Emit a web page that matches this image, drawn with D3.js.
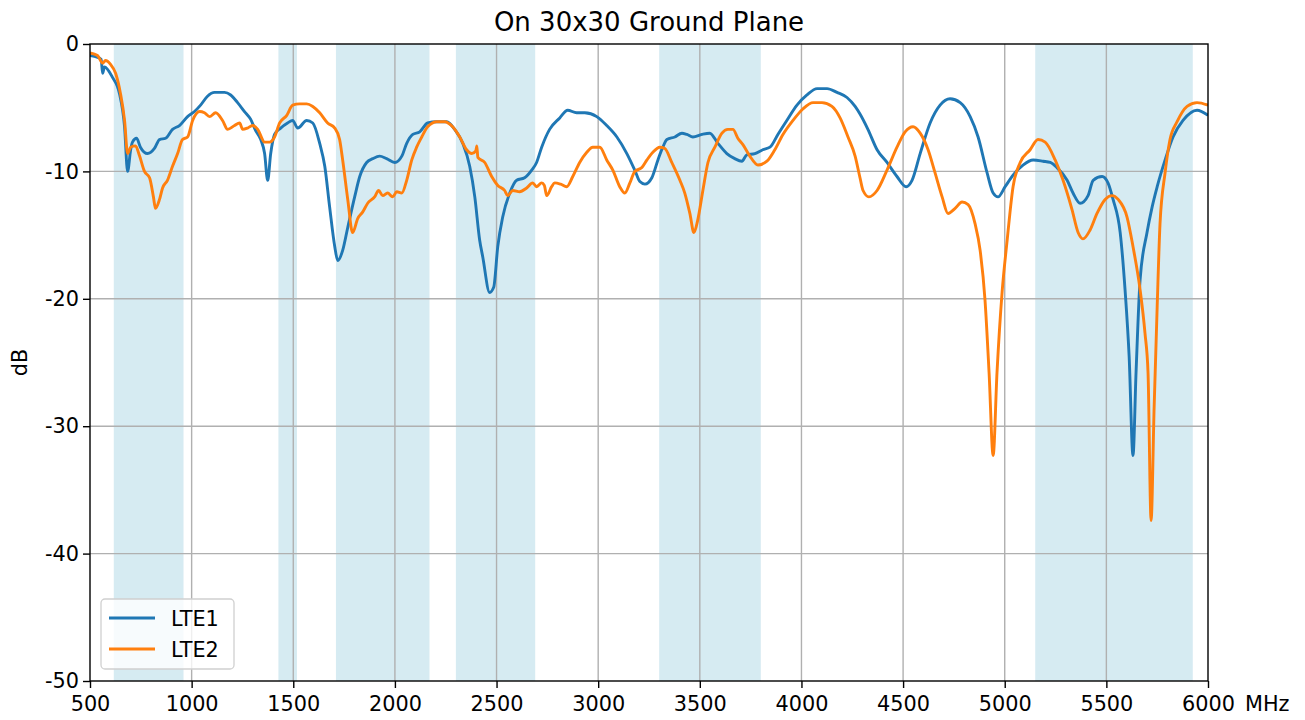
<!DOCTYPE html>
<html>
<head>
<meta charset="utf-8">
<script src="https://cdn.jsdelivr.net/npm/d3@7"></script>
<style>
  body { margin: 0; background: #fff; }
  text { font-family: "DejaVu Sans", sans-serif; fill: #000; }
</style>
</head>
<body>
<div class="canvas"></div>
<script>
// data
const bands = [[617, 960], [1427, 1518], [1710, 2170], [2300, 2690], [3300, 3800], [5150, 5925]];
const xTicks = [500, 1000, 1500, 2000, 2500, 3000, 3500, 4000, 4500, 5000, 5500, 6000];
const yTicks = [0, -10, -20, -30, -40, -50];
const seriesNames = ['LTE1', 'LTE2'];

const lte1Freq = [500,527,555,562,571,610,645,670,685,700,709,729,748,783,817,842,872,906,940,980,1014,1044,1078,1113,1162,1192,1226,1260,1290,1315,1340,1359,1374,1389,1408,1438,1472,1497,1522,1566,1596,1630,1655,1679,1704,1719,1743,1768,1802,1827,1861,1891,1925,1959,1999,2034,2058,2088,2122,2161,2206,2255,2294,2334,2368,2393,2417,2432,2466,2486,2506,2530,2565,2599,2638,2673,2697,2722,2761,2811,2850,2894,2934,2993,3042,3092,3141,3180,3205,3230,3264,3294,3318,3338,3377,3412,3436,3466,3510,3549,3589,3633,3672,3707,3731,3771,3810,3845,3884,3928,3978,4027,4077,4126,4175,4224,4264,4288,4327,4372,4421,4470,4515,4544,4584,4633,4682,4731,4781,4830,4869,4913,4943,4967,5002,5041,5090,5140,5189,5224,5257,5307,5336,5371,5410,5435,5479,5508,5533,5568,5592,5612,5631,5646,5666,5700,5725,5750,5789,5828,5877,5946,6000];
const lte1Db = [-0.9,-1.0,-1.2,-2.3,-1.8,-2.6,-3.9,-6.5,-10.0,-8.3,-7.7,-7.4,-8.1,-8.6,-8.2,-7.5,-7.4,-6.7,-6.4,-5.7,-5.3,-4.8,-4.1,-3.8,-3.8,-4.0,-4.6,-5.3,-5.9,-6.8,-7.5,-8.6,-10.7,-8.6,-7.1,-6.6,-6.2,-6.0,-6.6,-6.0,-6.2,-7.8,-9.6,-12.8,-15.9,-17.0,-16.2,-14.4,-12.0,-10.4,-9.3,-9.0,-8.8,-9.0,-9.3,-8.8,-7.8,-7.1,-6.9,-6.2,-6.1,-6.1,-6.7,-7.8,-9.6,-12.0,-15.4,-16.7,-19.5,-19.1,-15.9,-13.6,-11.7,-10.7,-10.5,-9.9,-9.3,-8.1,-6.7,-5.8,-5.2,-5.4,-5.4,-5.7,-6.4,-7.3,-8.6,-9.9,-10.8,-11.0,-10.5,-9.1,-8.1,-7.5,-7.3,-7.0,-7.1,-7.3,-7.1,-7.0,-7.8,-8.6,-9.0,-9.2,-8.7,-8.6,-8.3,-8.1,-7.1,-6.0,-4.8,-4.0,-3.5,-3.5,-3.8,-4.2,-4.9,-5.5,-6.7,-8.3,-9.3,-10.4,-11.2,-10.7,-8.6,-6.2,-4.8,-4.3,-4.6,-5.7,-7.3,-10.1,-11.7,-12.0,-11.2,-10.3,-9.5,-9.1,-9.2,-9.3,-9.7,-10.7,-11.7,-12.5,-11.9,-10.7,-10.4,-10.9,-12.2,-14.8,-19.3,-24.5,-32.3,-25.8,-18.5,-14.8,-12.8,-11.2,-9.1,-7.3,-6.0,-5.2,-5.6];

const lte2Freq = [500,537,562,576,601,626,650,670,685,700,724,744,768,793,812,822,842,857,881,906,931,955,980,1005,1039,1063,1088,1118,1152,1177,1211,1236,1251,1275,1300,1325,1359,1384,1408,1433,1468,1497,1531,1566,1596,1630,1669,1704,1728,1743,1768,1792,1817,1841,1866,1900,1920,1940,1964,1989,2009,2034,2058,2083,2107,2132,2161,2206,2245,2284,2319,2353,2378,2398,2403,2408,2442,2476,2506,2540,2555,2580,2614,2648,2678,2697,2722,2735,2747,2771,2786,2815,2845,2875,2909,2944,2973,3008,3042,3072,3106,3131,3156,3180,3215,3240,3269,3303,3328,3362,3402,3426,3451,3471,3490,3515,3540,3574,3609,3638,3663,3687,3712,3746,3786,3830,3869,3909,3958,4007,4057,4101,4150,4190,4229,4264,4288,4303,4332,4372,4421,4470,4510,4549,4584,4623,4657,4692,4721,4756,4790,4820,4854,4879,4903,4923,4943,4962,4987,5012,5041,5076,5125,5164,5199,5248,5287,5331,5361,5385,5420,5454,5494,5528,5558,5602,5631,5666,5690,5705,5720,5735,5750,5764,5789,5813,5848,5897,5946,6000];
const lte2Db = [-0.7,-0.9,-1.5,-1.3,-1.6,-2.3,-3.9,-6.0,-8.6,-8.1,-8.0,-8.8,-10.0,-10.5,-12.0,-12.9,-12.2,-11.3,-10.7,-9.6,-8.6,-7.5,-7.3,-6.0,-5.3,-5.4,-5.7,-5.4,-6.0,-6.7,-6.4,-6.2,-6.7,-6.6,-6.4,-6.7,-7.7,-7.7,-7.3,-6.2,-5.6,-4.8,-4.7,-4.7,-4.9,-5.4,-6.2,-6.6,-7.5,-9.1,-12.2,-14.8,-13.7,-13.2,-12.5,-12.0,-11.5,-11.9,-11.7,-12.0,-11.6,-11.7,-10.7,-9.1,-8.1,-7.3,-6.5,-6.1,-6.1,-6.5,-7.3,-8.3,-8.6,-8.4,-8.0,-8.9,-9.3,-10.4,-11.1,-11.5,-11.9,-11.5,-11.6,-11.3,-10.9,-11.2,-10.9,-11.1,-11.9,-11.2,-10.9,-11.0,-11.2,-10.4,-9.3,-8.5,-8.1,-8.1,-9.1,-9.9,-11.2,-11.7,-10.9,-10.0,-9.7,-9.1,-8.5,-8.1,-8.2,-9.3,-10.7,-11.7,-13.3,-14.8,-13.8,-11.5,-9.3,-8.1,-7.0,-6.7,-6.7,-7.4,-7.9,-8.8,-9.5,-9.2,-8.3,-7.1,-6.0,-5.1,-4.6,-4.6,-4.9,-5.8,-7.3,-8.8,-10.5,-11.5,-12.0,-11.5,-9.9,-8.1,-6.9,-6.5,-7.0,-8.3,-10.1,-12.0,-13.3,-12.9,-12.4,-12.6,-14.1,-16.2,-20.1,-25.8,-32.3,-25.8,-19.5,-15.4,-11.2,-9.3,-8.3,-7.5,-7.7,-9.1,-10.7,-13.0,-14.8,-15.3,-14.6,-13.3,-12.2,-11.9,-12.2,-13.6,-15.9,-19.3,-22.7,-25.8,-37.4,-28.5,-20.6,-14.1,-10.1,-7.5,-6.1,-4.9,-4.6,-4.8];

const colors = ['#1f77b4', '#ff7f0e'];
const series = [
  lte1Freq.map((f, i) => ({f: f, db: lte1Db[i]})),
  lte2Freq.map((f, i) => ({f: f, db: lte2Db[i]}))
];

const svg = d3.select('.canvas')
  .append('svg')
    .attr('width', 1305)
    .attr('height', 720);

const margin = {top: 44, right: 97, bottom: 39, left: 90};
const graphWidth = 1305 - margin.left - margin.right;
const graphHeight = 720 - margin.top - margin.bottom;
const fontSize = '20.8px';

const graph = svg.append('g')
  .attr('transform', `translate(${margin.left}, ${margin.top})`);

const x = d3.scaleLinear().domain([500, 6000]).range([0, graphWidth]);
const y = d3.scaleLinear().domain([-50, 0]).range([graphHeight, 0]);

graph.append('defs').append('clipPath').attr('id', 'clip')
  .append('rect').attr('width', graphWidth).attr('height', graphHeight);

// shaded bands
graph.selectAll('rect.band')
  .data(bands)
  .enter().append('rect')
    .attr('class', 'band')
    .attr('x', d => x(d[0]))
    .attr('width', d => x(d[1]) - x(d[0]))
    .attr('y', 0)
    .attr('height', graphHeight)
    .attr('fill', '#add8e6')
    .attr('fill-opacity', 0.5);

// grid
graph.selectAll('line.vgrid')
  .data(xTicks.slice(1, -1))
  .enter().append('line')
    .attr('x1', d => x(d)).attr('x2', d => x(d))
    .attr('y1', 0).attr('y2', graphHeight)
    .attr('stroke', '#b0b0b0').attr('stroke-width', 1.4);
graph.selectAll('line.hgrid')
  .data(yTicks.slice(1, -1))
  .enter().append('line')
    .attr('y1', d => y(d)).attr('y2', d => y(d))
    .attr('x1', 0).attr('x2', graphWidth)
    .attr('stroke', '#b0b0b0').attr('stroke-width', 1.4);

// lines
const line = d3.line()
  .x(d => x(d.f))
  .y(d => y(d.db))
  .curve(d3.curveMonotoneX);

graph.append('g').attr('clip-path', 'url(#clip)')
  .selectAll('path')
  .data(series)
  .enter().append('path')
    .attr('d', line)
    .attr('fill', 'none')
    .attr('stroke', (d, i) => colors[i])
    .attr('stroke-width', 2.9)
    .attr('stroke-linejoin', 'round');

// axes
const xAxis = d3.axisBottom(x).tickValues(xTicks).tickSize(7).tickPadding(8).tickFormat(d3.format('d'));
const yAxis = d3.axisLeft(y).tickValues(yTicks).tickSize(7).tickPadding(4).tickFormat(d => String(d));

const xAxisGroup = graph.append('g')
  .attr('transform', `translate(0, ${graphHeight})`)
  .call(xAxis);
const yAxisGroup = graph.append('g').call(yAxis);
[xAxisGroup, yAxisGroup].forEach(g => {
  g.select('.domain').remove();
  g.selectAll('line').attr('stroke', '#000').attr('stroke-width', 1.4);
  g.selectAll('text').style('font-size', fontSize).attr('fill', '#000');
});

// frame
graph.append('rect')
  .attr('width', graphWidth).attr('height', graphHeight)
  .attr('fill', 'none').attr('stroke', '#000').attr('stroke-width', 1.4);

// labels
svg.append('text')
  .attr('x', margin.left + graphWidth / 2).attr('y', 31)
  .attr('text-anchor', 'middle')
  .style('font-size', '26px')
  .text('On 30x30 Ground Plane');

svg.append('text')
  .attr('transform', `translate(27, ${margin.top + graphHeight / 2}) rotate(-90)`)
  .attr('text-anchor', 'middle')
  .style('font-size', fontSize)
  .text('dB');

svg.append('text')
  .attr('x', 1245).attr('y', 711)
  .style('font-size', fontSize)
  .text('MHz');

// legend
const legend = graph.append('g').attr('transform', 'translate(11, 555)');
legend.append('rect')
  .attr('width', 133).attr('height', 70).attr('rx', 4)
  .attr('fill', '#fff').attr('fill-opacity', 0.8)
  .attr('stroke', '#d0d0d0').attr('stroke-width', 1.3);
seriesNames.forEach((name, i) => {
  legend.append('line')
    .attr('x1', 8).attr('x2', 54)
    .attr('y1', 19 + i * 31).attr('y2', 19 + i * 31)
    .attr('stroke', colors[i]).attr('stroke-width', 2.9);
  legend.append('text')
    .attr('x', 70).attr('y', 26.5 + i * 31)
    .style('font-size', fontSize)
    .text(name);
});
</script>
</body>
</html>
